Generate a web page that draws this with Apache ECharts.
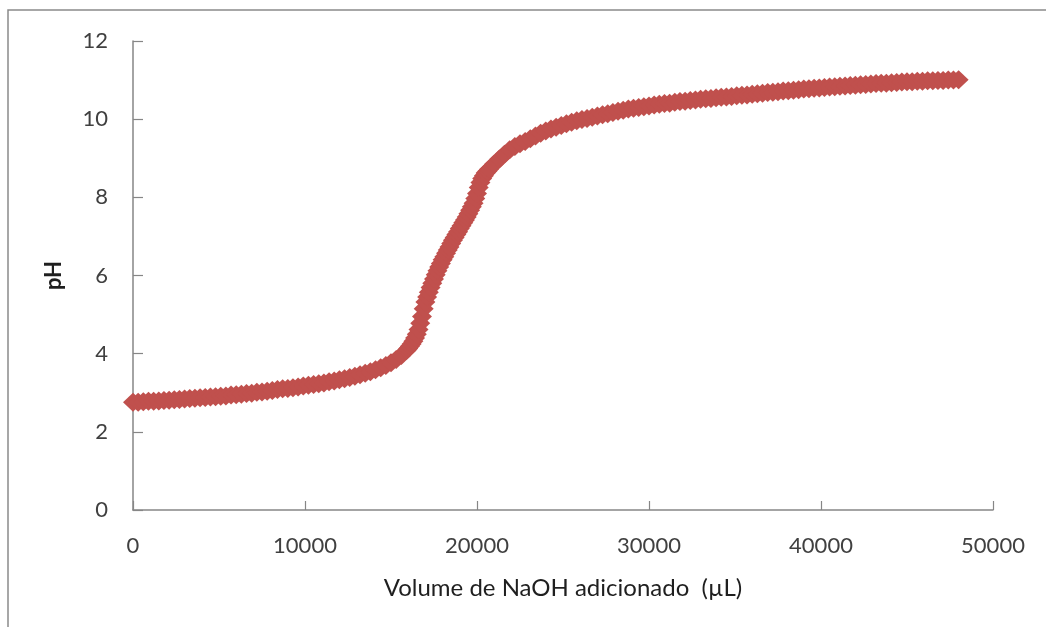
<!DOCTYPE html>
<html>
<head>
<meta charset="utf-8">
<script src="https://cdn.jsdelivr.net/npm/echarts@6/dist/echarts.min.js"></script>
<style>
html,body{margin:0;padding:0;background:#fff;}
#chart{width:1046px;height:627px;}
</style>
</head>
<body>
<div id="chart"></div>
<script>
// Volume of NaOH added (µL)
const volumes = [
  0,300,600,900,1200,1500,1800,2100,2400,2700,
  3000,3300,3600,3900,4200,4500,4800,5100,5400,5700,
  6000,6300,6600,6900,7200,7500,7800,8100,8400,8700,
  9000,9300,9600,9900,10200,10500,10800,11100,11400,11700,
  12000,12300,12600,12900,13200,13500,13800,14100,14400,14700,
  15000,15300,15600,
  15900,16000,16100,16200,16300,16400,16500,16600,16700,16800,
  16900,17000,17100,17200,17300,17400,17500,17600,17700,17800,
  17900,18000,18100,18200,18300,18400,18500,18600,18700,18800,
  18900,19000,19100,19200,19300,19400,19500,19600,19700,19800,
  19900,20000,20100,20200,20300,20400,20500,20600,20700,
  21000,21300,21600,21900,22200,22500,22800,23100,23400,23700,
  24000,24300,24600,24900,25200,25500,25800,26100,26400,26700,
  27000,27300,27600,27900,28200,28500,28800,29100,29400,29700,
  30000,30300,30600,30900,31200,31500,31800,32100,32400,32700,
  33000,33300,33600,33900,34200,34500,34800,35100,35400,35700,
  36000,36300,36600,36900,37200,37500,37800,38100,38400,38700,
  39000,39300,39600,39900,40200,40500,40800,41100,41400,41700,
  42000,42300,42600,42900,43200,43500,43800,44100,44400,44700,
  45000,45300,45600,45900,46200,46500,46800,47100,47400,47700,
  48000
];
// measured pH
const phValues = [
  2.76,2.76,2.77,2.78,2.78,2.79,2.80,2.81,2.82,2.83,
  2.84,2.85,2.86,2.87,2.88,2.89,2.90,2.91,2.92,2.94,
  2.95,2.96,2.98,2.99,3.01,3.02,3.04,3.06,3.08,3.10,
  3.11,3.13,3.15,3.17,3.19,3.21,3.23,3.25,3.28,3.30,
  3.33,3.36,3.39,3.42,3.46,3.50,3.54,3.59,3.64,3.70,
  3.77,3.85,3.95,
  4.08,4.13,4.19,4.25,4.32,4.40,4.50,4.62,4.78,4.95,
  5.15,5.32,5.45,5.57,5.69,5.80,5.91,6.02,6.12,6.22,
  6.31,6.40,6.48,6.57,6.65,6.73,6.82,6.90,6.97,7.05,
  7.12,7.20,7.27,7.35,7.42,7.50,7.58,7.67,7.76,7.85,
  7.97,8.10,8.25,8.38,8.48,8.55,8.62,8.67,8.72,
  8.85,8.98,9.10,9.22,9.30,9.37,9.43,9.50,9.57,9.64,
  9.70,9.75,9.79,9.84,9.88,9.92,9.96,9.99,10.02,10.05,
  10.08,10.11,10.14,10.17,10.20,10.23,10.26,10.28,10.30,10.32,
  10.34,10.36,10.38,10.40,10.41,10.43,10.45,10.46,10.48,10.49,
  10.51,10.52,10.53,10.55,10.56,10.57,10.58,10.60,10.61,10.62,
  10.64,10.65,10.66,10.68,10.69,10.70,10.72,10.73,10.74,10.75,
  10.77,10.78,10.79,10.80,10.81,10.82,10.83,10.84,10.85,10.86,
  10.87,10.88,10.89,10.90,10.91,10.92,10.92,10.93,10.94,10.95,
  10.96,10.96,10.97,10.97,10.98,10.98,10.99,10.99,11.00,11.00,
  11.01
];
const xTitle = 'Volume de NaOH adicionado  (µL)';
const yTitle = 'pH';

const points = volumes.map((v, i) => [v, phValues[i]]);
const fontFam = 'Lato, "Open Sans", sans-serif';
const axisGray = '#868686';

const chart = echarts.init(document.getElementById('chart'), null, {renderer: 'canvas'});
chart.setOption({
  animation: false,
  backgroundColor: '#ffffff',
  graphic: [{
    type: 'rect',
    shape: {x: 8, y: 10, width: 1200, height: 800},
    style: {fill: 'none', stroke: '#8a8a8a', lineWidth: 1.5},
    silent: true, z: -1
  }],
  grid: {left: 133, right: 53, top: 41, bottom: 117},
  xAxis: {
    type: 'value', min: 0, max: 50000, interval: 10000,
    name: xTitle, nameLocation: 'middle', nameGap: 66,
    nameTextStyle: {fontFamily: fontFam, fontSize: 24, color: '#1f1f1f'},
    axisLine: {show: true, onZero: false, lineStyle: {color: axisGray, width: 1.5}},
    axisTick: {show: true, inside: true, length: 9, lineStyle: {color: axisGray, width: 1.2}},
    axisLabel: {fontFamily: fontFam, fontSize: 22, color: '#404040', margin: 25,
      formatter: function (v) { return String(v); }},
    splitLine: {show: false}
  },
  yAxis: {
    type: 'value', min: 0, max: 12, interval: 2,
    name: yTitle, nameLocation: 'middle', nameGap: 68, nameRotate: 90,
    nameTextStyle: {fontFamily: fontFam, fontSize: 22, fontWeight: 'bold', color: '#1f1f1f'},
    axisLine: {show: true, lineStyle: {color: axisGray, width: 1.5}},
    axisTick: {show: true, inside: true, length: 10, lineStyle: {color: axisGray, width: 1.2}},
    axisLabel: {fontFamily: fontFam, fontSize: 22, color: '#404040', margin: 25},
    splitLine: {show: false}
  },
  series: [{
    type: 'scatter',
    data: points,
    symbol: 'diamond',
    symbolSize: [20, 19],
    itemStyle: {color: '#C0504D', opacity: 1},
    clip: false
  }]
});
</script>
</body>
</html>
